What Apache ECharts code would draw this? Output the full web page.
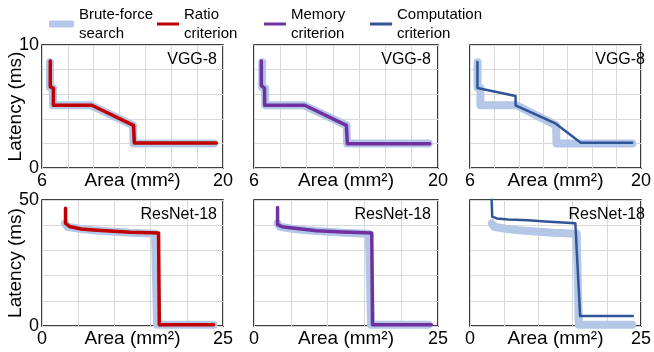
<!DOCTYPE html>
<html>
<head>
<meta charset="utf-8">
<script src="https://cdn.jsdelivr.net/npm/echarts@6/dist/echarts.min.js"></script>
<style>
  html, body { margin: 0; padding: 0; background: #fff; }
  #chart { width: 654px; height: 352px; }
</style>
</head>
<body>
<div id="chart"></div>
<script>
// series names and colours
var names = ['Brute-force\nsearch', 'Ratio\ncriterion', 'Memory\ncriterion', 'Computation\ncriterion'];
var colors = ['#b4c7e7', '#c00000', '#7030a0', '#2f5597'];
var widths = [8, 3.5, 3.5, 2.5];

// VGG-8 curves [area mm2, latency ms]
var vggBrute = [[6.62, 8.6], [6.62, 6.55], [6.85, 6.5], [6.85, 5.1], [9.8, 5.1], [13.05, 3.47], [13.08, 2.0], [19.3, 2.0]];
var vggRatio = [[6.64, 8.7], [6.64, 6.6], [6.88, 6.5], [6.88, 5.1], [9.85, 5.1], [13.08, 3.47], [13.14, 2.03], [19.48, 2.03]];
var vggMemory = [[6.56, 8.7], [6.56, 6.7], [6.8, 6.5], [6.81, 5.1], [9.86, 5.1], [13.03, 3.47], [13.1, 1.98], [19.37, 1.98]];
var vggComp = [[6.61, 8.62], [6.61, 6.5], [9.73, 5.85], [9.73, 5.1], [13.03, 3.6], [15.07, 2.06], [19.28, 2.06]];

// ResNet-18 curves
var resBrute = [[3.2, 40.7], [3.5, 39.4], [5.2, 38.6], [7.1, 38.0], [9.5, 37.5], [12.2, 37.0], [15.6, 36.6], [15.9, 0.5], [23.7, 0.5]];
var resRatio = [[3.25, 46.7], [3.25, 40.7], [3.8, 39.5], [5.4, 38.5], [7.1, 38.1], [9.4, 37.7], [12.2, 37.2], [16.1, 36.9], [16.2, 0.5], [23.7, 0.5]];
var resMemory = [[3.2, 47], [3.2, 40.2], [3.8, 39.4], [4.9, 39.0], [8.5, 37.8], [12.0, 37.3], [16.0, 36.9], [16.1, 0.5], [24.1, 0.5]];
var resComp = [[3.15, 51], [3.25, 43.4], [3.9, 42.7], [5.6, 42.3], [8.5, 42.0], [11.0, 41.5], [15.4, 40.8], [16.1, 4.0], [23.8, 4.0]];

// axis ranges per row
var xRange = [[6, 20, 2], [0, 25, 5]];
var yRange = [[0, 10, 2], [0, 50, 10]];
var panelTitles = ['VGG-8', 'ResNet-18'];

var colLeft = [42, 254, 470];
var colWidth = [181, 184, 182];
var rowTop = [45, 200];
var rowHeight = [123, 126];
var titleRight = [437, 223, 9];
var titleTop = [52, 207];
var legLeft = [49, 157, 264, 370];

var panelData = [
    [[vggBrute, vggRatio], [vggBrute, vggMemory], [vggBrute, vggComp]],
    [[resBrute, resRatio], [resBrute, resMemory], [resBrute, resComp]]
];

var font = 'Liberation Sans, Arial, sans-serif';

var grids = [], xAxes = [], yAxes = [], series = [], titles = [];

for (var r = 0; r < 2; r++) {
    for (var c = 0; c < 3; c++) {
        var gi = r * 3 + c;
        grids.push({
            left: colLeft[c], top: rowTop[r], width: colWidth[c], height: rowHeight[r],
            show: true, borderColor: '#000', borderWidth: 1.5
        });
        (function (xr, yr) {
            xAxes.push({
                type: 'value', gridIndex: gi, min: xr[0], max: xr[1], interval: xr[2],
                axisLine: { show: false }, axisTick: { show: false },
                splitLine: { lineStyle: { color: '#d9d9d9', width: 1 } },
                axisLabel: {
                    margin: 4, fontSize: 18, color: '#000', fontFamily: font,
                    formatter: function (v) { return (v === xr[0] || v === xr[1]) ? String(v) : ''; }
                },
                name: 'Area (mm²)', nameLocation: 'middle', nameGap: 3, nameMoveOverlap: false,
                nameTextStyle: { fontSize: 19, color: '#000', fontFamily: font }
            });
            yAxes.push({
                type: 'value', gridIndex: gi, min: yr[0], max: yr[1], interval: yr[2],
                axisLine: { show: false }, axisTick: { show: false },
                splitLine: { lineStyle: { color: '#d9d9d9', width: 1 } },
                axisLabel: {
                    show: c === 0, margin: 3, fontSize: 18, color: '#000', fontFamily: font,
                    formatter: function (v) { return (v === yr[0] || v === yr[1]) ? String(v) : ''; }
                },
                name: c === 0 ? 'Latency (ms)' : '', nameLocation: 'middle', nameGap: 17, nameMoveOverlap: false,
                nameTextStyle: { fontSize: 19, color: '#000', fontFamily: font }
            });
        })(xRange[r], yRange[r]);

        var pair = panelData[r][c];
        var idx = [0, c + 1];
        for (var k = 0; k < 2; k++) {
            var s = idx[k];
            series.push({
                name: names[s], type: 'line', xAxisIndex: gi, yAxisIndex: gi,
                data: pair[k], showSymbol: false, symbol: 'none', animation: false,
                color: colors[s],
                lineStyle: { color: colors[s], width: widths[s], cap: 'round', join: 'round' },
                z: k === 0 ? 2 : 3
            });
        }
        titles.push({
            text: panelTitles[r], right: titleRight[c], top: titleTop[r], padding: 0,
            textStyle: { fontSize: 16, fontWeight: 'normal', color: '#000', fontFamily: font }
        });
    }
}

var legends = names.map(function (n, i) {
    return {
        data: [{ name: n, icon: i === 0 ? 'roundRect' : 'rect' }],
        left: legLeft[i], top: 5, padding: 0,
        itemWidth: i === 0 ? 25 : 22, itemHeight: i === 0 ? 7 : 3,
        itemStyle: { color: colors[i], borderWidth: 0 },
        selectedMode: false,
        textStyle: { fontFamily: font, fontSize: 15, lineHeight: 19, color: '#000' }
    };
});

var myChart = echarts.init(document.getElementById('chart'));
myChart.setOption({
    animation: false,
    title: titles,
    legend: legends,
    grid: grids,
    xAxis: xAxes,
    yAxis: yAxes,
    series: series
});
</script>
</body>
</html>
